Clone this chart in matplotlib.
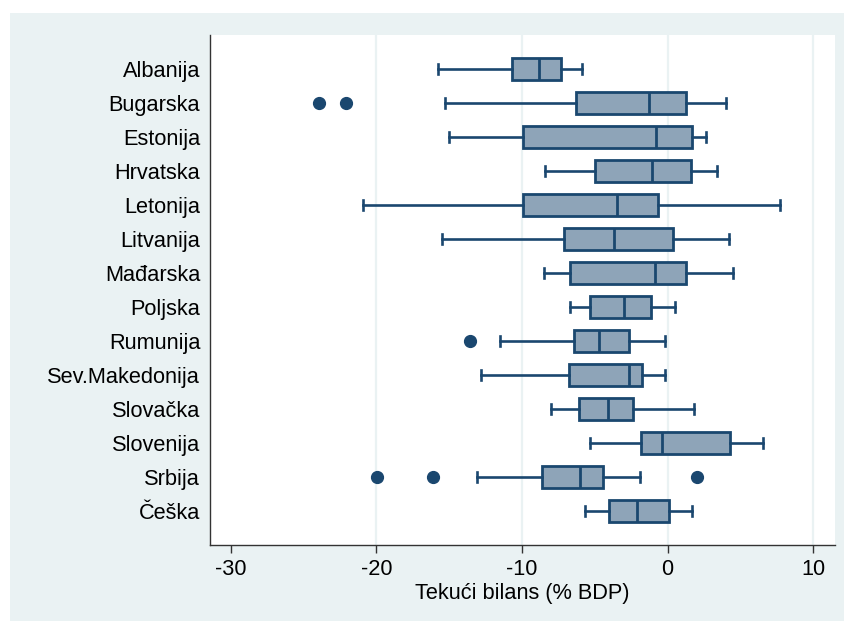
import matplotlib.pyplot as plt
from matplotlib.patches import Rectangle

plt.rcParams['font.family'] = ['Liberation Sans', 'DejaVu Sans']

countries = ['Albanija', 'Bugarska', 'Estonija', 'Hrvatska', 'Letonija', 'Litvanija',
             'Mađarska', 'Poljska', 'Rumunija', 'Sev.Makedonija', 'Slovačka',
             'Slovenija', 'Srbija', 'Češka']

# box stats (% of GDP)
whislo = [-15.8, -15.3, -15.0, -8.4, -20.9, -15.5, -8.5, -6.7, -11.5, -12.8, -8.0, -5.3, -13.1, -5.7]
q1 = [-10.7, -6.3, -9.9, -5.0, -9.9, -7.1, -6.7, -5.3, -6.4, -6.75, -6.1, -1.8, -8.6, -4.05]
med = [-8.85, -1.3, -0.8, -1.1, -3.45, -3.65, -0.85, -3.0, -4.7, -2.65, -4.1, -0.4, -6.0, -2.1]
q3 = [-7.35, 1.25, 1.7, 1.6, -0.65, 0.4, 1.3, -1.15, -2.65, -1.75, -2.4, 4.3, -4.4, 0.1]
whishi = [-5.85, 4.0, 2.65, 3.4, 7.7, 4.25, 4.5, 0.5, -0.15, -0.15, 1.85, 6.55, -1.9, 1.65]
outliers = [[], [-23.95, -22.1], [], [], [], [], [], [], [-13.6], [], [], [],
            [-19.95, -16.1, 2.0], []]

navy = '#1a476f'
fillc = '#8ea4b8'
bg = '#eaf2f3'

stats = []
for i, c in enumerate(countries):
    stats.append(dict(label=c, whislo=whislo[i], q1=q1[i], med=med[i],
                      q3=q3[i], whishi=whishi[i], fliers=outliers[i]))

fig = plt.figure(figsize=(8.45, 6.21), dpi=100, facecolor='white')
fig.patches.append(Rectangle((10 / 845, -0.01), 1.02, (621 - 13) / 621 + 0.01,
                             transform=fig.transFigure, facecolor=bg,
                             edgecolor='none', zorder=-10))

ax = fig.add_axes([210 / 845, (621 - 545) / 621, (835 - 210) / 845, (545 - 35) / 621])
ax.set_facecolor('white')

pos = list(range(1, len(countries) + 1))
ax.bxp(stats, positions=pos, vert=False, widths=0.62, patch_artist=True,
       boxprops=dict(facecolor=fillc, edgecolor=navy, linewidth=2.0),
       medianprops=dict(color=navy, linewidth=2.0),
       whiskerprops=dict(color=navy, linewidth=1.9),
       capprops=dict(color=navy, linewidth=1.9),
       capwidths=0.32,
       flierprops=dict(marker='o', markerfacecolor=navy, markeredgecolor=navy,
                       markersize=8.5))

ax.set_ylim(len(countries) + 1, 0)
ax.set_xlim(-31.44, 11.51)
ax.set_xticks([-30, -20, -10, 0, 10])
ax.set_xticklabels(['-30', '-20', '-10', '0', '10'])
ax.set_yticks(pos)
ax.set_yticklabels(countries)

for v in [-20, -10, 0, 10]:
    ax.axvline(v, color=bg, linewidth=1.6, zorder=0)

for s in ['top', 'right']:
    ax.spines[s].set_visible(False)
for s in ['left', 'bottom']:
    ax.spines[s].set_color('#333333')
    ax.spines[s].set_linewidth(1.0)

ax.tick_params(axis='y', length=0, pad=7, labelsize=15.7)
ax.tick_params(axis='x', length=6, width=1, color='#333333', pad=4, labelsize=15.7)
ax.set_xlabel('Tekući bilans (% BDP)', fontsize=15.7, labelpad=2)

fig.savefig('out.png', dpi=100, facecolor=fig.get_facecolor())
